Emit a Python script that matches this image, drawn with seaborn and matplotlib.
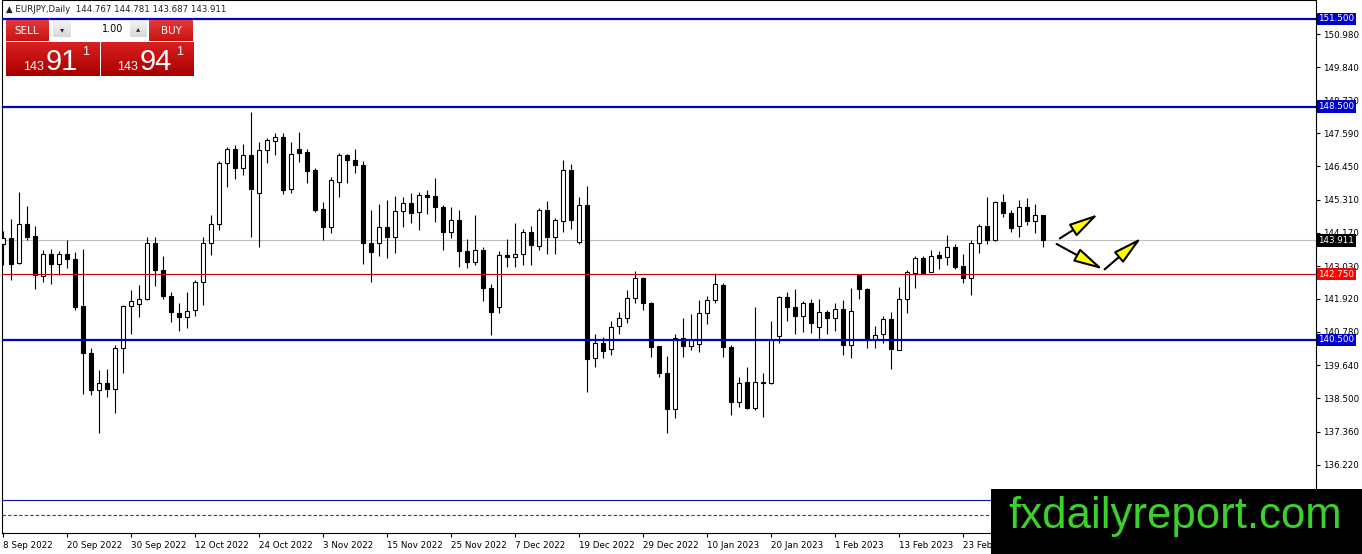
import numpy as np
import pandas as pd
import seaborn as sns
import matplotlib.pyplot as plt
from matplotlib.patches import Rectangle
from matplotlib.colors import LinearSegmentedColormap
from matplotlib.ticker import FormatStrFormatter

# EURJPY daily candles (8 Sep 2022 -> 9 Mar 2023)
opens = [143.78, 143.99, 143.15, 144.49, 144.06, 142.69, 143.43, 143.12, 143.46, 143.26,
         141.66, 140.07, 138.78, 139.01, 138.83, 140.24, 141.68, 141.75, 141.92, 143.84,
         142.91, 142.02, 141.44, 141.29, 141.54, 142.47, 143.84, 144.46, 146.55, 147.03,
         146.38, 146.83, 145.52, 147.01, 147.33, 147.44, 145.66, 147.06, 146.95, 146.32,
         144.98, 144.38, 145.92, 146.84, 146.67, 146.49, 143.81, 143.84, 144.36, 144.04,
         144.92, 145.18, 144.87, 145.47, 145.43, 145.04, 144.21, 144.61, 143.56, 143.18,
         143.58, 142.29, 141.62, 143.41, 143.33, 143.43, 144.19, 143.73, 144.95, 144.04,
         144.59, 146.32, 143.87, 145.12, 139.87, 140.38, 140.18, 140.98, 141.24, 141.93,
         142.61, 141.76, 140.29, 139.38, 138.12, 140.56, 140.30, 140.35, 141.41, 141.87,
         142.38, 140.27, 138.39, 139.05, 138.16, 139.05, 139.01, 140.64, 141.96, 141.62,
         141.33, 141.76, 140.96, 141.45, 141.24, 141.55, 140.33, 142.73, 142.23, 140.52,
         140.70, 141.21, 140.16, 141.89, 142.80, 143.30, 142.84, 143.40, 143.33, 143.67,
         143.03, 142.61, 143.84, 144.40, 143.92, 145.22, 144.84, 144.42, 145.04, 144.59,
         144.767]
highs = [144.23, 144.64, 145.58, 145.09, 144.40, 143.60, 143.61, 143.54, 143.94, 143.50,
         143.61, 140.21, 139.46, 139.49, 140.32, 141.70, 142.21, 142.38, 144.03, 144.03,
         143.37, 142.13, 141.77, 142.13, 142.55, 144.03, 144.78, 146.63, 147.12, 147.18,
         147.21, 148.30, 147.29, 147.43, 147.61, 147.61, 147.29, 147.63, 147.03, 146.38,
         145.23, 146.07, 146.92, 146.87, 147.03, 146.64, 144.95, 145.16, 145.29, 145.43,
         145.41, 145.52, 145.58, 145.64, 146.06, 145.12, 145.07, 144.95, 143.96, 144.78,
         143.70, 142.42, 143.55, 143.95, 144.52, 144.30, 144.40, 145.01, 145.26, 144.67,
         146.67, 146.53, 145.41, 145.78, 140.69, 140.59, 141.15, 141.47, 142.21, 142.87,
         142.67, 141.81, 140.29, 139.95, 140.70, 141.27, 141.39, 141.87, 142.01, 142.78,
         142.44, 140.33, 139.24, 139.59, 141.64, 139.38, 141.15, 142.01, 142.13, 142.23,
         141.85, 141.89, 141.89, 141.53, 141.78, 141.87, 142.27, 142.76, 142.27, 140.99,
         141.32, 141.47, 142.30, 142.90, 143.38, 143.38, 143.60, 143.56, 144.10, 143.79,
         143.44, 143.92, 144.47, 145.41, 145.27, 145.50, 144.95, 145.30, 145.35, 145.16,
         144.781]
lows = [143.06, 142.55, 143.10, 143.92, 142.23, 142.49, 142.43, 142.73, 142.95, 141.54,
        138.66, 138.61, 137.31, 138.55, 138.00, 139.37, 140.72, 141.29, 141.86, 142.35,
        141.89, 141.12, 140.81, 140.91, 141.31, 141.69, 143.41, 144.26, 145.75, 146.00,
        146.15, 144.03, 143.69, 146.55, 146.83, 145.49, 145.52, 146.61, 145.89, 144.90,
        143.92, 144.15, 145.41, 145.89, 146.23, 143.12, 142.50, 143.39, 143.30, 143.49,
        144.36, 144.50, 144.27, 144.82, 144.55, 143.58, 144.00, 142.99, 142.95, 143.07,
        141.84, 140.67, 141.43, 143.01, 143.01, 143.07, 143.07, 143.60, 143.43, 143.43,
        144.21, 144.32, 143.79, 138.73, 139.58, 139.87, 139.98, 140.70, 141.07, 141.76,
        141.53, 139.93, 139.24, 137.32, 137.81, 139.90, 140.16, 140.10, 141.04, 141.76,
        139.93, 137.93, 138.19, 138.12, 138.10, 137.87, 138.98, 140.39, 141.16, 140.70,
        140.78, 140.75, 140.50, 140.70, 140.82, 139.98, 139.87, 141.89, 140.21, 140.21,
        140.39, 139.49, 140.14, 141.43, 142.27, 142.76, 142.82, 142.92, 143.07, 142.92,
        142.46, 142.04, 143.49, 143.79, 143.90, 144.70, 144.21, 144.04, 144.44, 144.15,
        143.687]
closes = [143.98, 143.09, 144.49, 144.03, 142.72, 143.46, 143.09, 143.46, 143.26, 141.63,
          140.06, 138.78, 139.01, 138.83, 140.24, 141.67, 141.82, 141.92, 143.84, 142.91,
          142.01, 141.46, 141.29, 141.50, 142.47, 143.84, 144.49, 146.57, 147.03, 146.38,
          146.83, 145.66, 147.01, 147.35, 147.44, 145.63, 146.89, 146.91, 146.30, 144.95,
          144.38, 145.98, 146.84, 146.67, 146.49, 143.81, 143.52, 144.36, 144.04, 144.92,
          145.18, 144.84, 145.47, 145.41, 145.04, 144.21, 144.61, 143.56, 143.18, 143.58,
          142.29, 141.47, 143.41, 143.33, 143.43, 144.19, 143.77, 144.95, 144.04, 144.61,
          146.32, 144.61, 145.12, 139.84, 140.38, 140.13, 140.93, 141.24, 141.93, 142.61,
          141.76, 140.25, 139.36, 138.12, 140.56, 140.30, 140.50, 141.41, 141.87, 142.42,
          140.25, 138.39, 139.04, 138.16, 139.05, 139.01, 140.50, 141.96, 141.62, 141.33,
          141.76, 141.07, 141.45, 141.24, 141.55, 140.33, 141.50, 142.23, 140.50, 140.67,
          141.21, 140.18, 141.89, 142.84, 143.30, 142.80, 143.38, 143.32, 143.67, 142.99,
          142.61, 143.81, 144.40, 143.92, 145.22, 144.84, 144.35, 145.04, 144.59, 144.767,
          143.911]

dates = pd.bdate_range("2022-09-08", periods=len(opens))

header = "\u25b2 EURJPY,Daily  144.767 144.781 143.687 143.911"

# drawn levels
thick_levels = [151.5, 148.5, 140.5]
thin_blue_level = 135.0
red_level = 142.75
red_dashed_level = 134.5
bid = 143.911

price_ticks = [150.98, 149.84, 148.72, 147.59, 146.45, 145.31, 144.17,
               143.03, 141.92, 140.78, 139.64, 138.50, 137.36, 136.22]

# scenario arrows: (bar, price) start -> end
arrows = [((132.1, 143.98), (136.9, 144.81)),
          ((131.7, 143.79), (137.5, 142.92)),
          ((137.7, 142.92), (142.3, 144.00))]

BLUE = "#0000cd"
RED = "#e00000"

sns.set_theme(style="white")
plt.rcParams["font.family"] = ["DejaVu Sans"]

W, H = 1362, 554
fig = plt.figure(figsize=(W / 100, H / 100), dpi=100)
fig.patch.set_facecolor("white")
ax = fig.add_axes([2 / W, (H - 533) / H, (1316 - 2) / W, 533 / H])
ax.set_facecolor("white")

df = pd.DataFrame({"date": dates, "open": opens, "high": highs,
                   "low": lows, "close": closes})
df["x"] = np.arange(len(df))
bull = df["close"] >= df["open"]
body_lo = df[["open", "close"]].min(axis=1)
body_h = (df["close"] - df["open"]).abs().clip(lower=0.025)

ax.vlines(df["x"], df["low"], df["high"], color="black", lw=0.8, zorder=2)
ax.bar(df["x"], body_h, bottom=body_lo, width=0.52,
       color=np.where(bull, "white", "black"), edgecolor="black",
       linewidth=0.8, zorder=3)

# horizontal levels
for lvl in thick_levels:
    ax.axhline(lvl, color=BLUE, lw=1.6, zorder=4)
ax.axhline(thin_blue_level, color="#1010a0", lw=0.8, zorder=4)
ax.axhline(red_level, color="#c80000", lw=0.8, zorder=4)
ax.axhline(red_dashed_level, color="#d00000", lw=0.8, ls=(0, (3, 2)), zorder=4)
ax.axhline(bid, color="#c0c0c0", lw=0.8, zorder=1)

for start, end in arrows:
    ax.annotate("", xy=end, xytext=start,
                arrowprops=dict(arrowstyle="-|>,head_length=0.9,head_width=0.22",
                                fc="yellow", ec="black", lw=1.5,
                                mutation_scale=20, shrinkA=0, shrinkB=0),
                zorder=6)

ax.set_xlim(-0.125, 164.125)
ax.set_ylim(133.885, 152.151)

# axes look
for side in ["left", "right", "bottom", "top"]:
    ax.spines[side].set_color("black")
    ax.spines[side].set_linewidth(0.8)
ax.yaxis.tick_right()
ax.set_yticks(price_ticks)
ax.yaxis.set_major_formatter(FormatStrFormatter("%.3f"))
tick_pos = list(range(0, len(df), 8))
ax.set_xticks(tick_pos)
ax.set_xticklabels([f"{d.day} {d:%b %Y}" for d in dates[tick_pos]], ha="left")
ax.tick_params(axis="both", which="major", labelsize=6.3, colors="black",
               length=3, width=0.8, direction="out")
ax.tick_params(axis="y", left=False, right=True, labelleft=False,
               labelright=True, pad=2)
ax.tick_params(axis="x", bottom=True, pad=3)
ax.grid(False)

# price tags on the scale
tags = [(151.5, BLUE), (148.5, BLUE), (140.5, BLUE), (bid, "black"), (red_level, "#ff0000")]
for lvl, bg in tags:
    ax.text(1.0018, lvl, f"{lvl:.3f}", transform=ax.get_yaxis_transform(),
            ha="left", va="center", fontsize=6.3, color="white", zorder=10,
            clip_on=False,
            bbox=dict(boxstyle="square,pad=0.18", fc=bg, ec="none"))

# header line
fig.text(6 / W, 1 - 10 / H, header, fontsize=6.2, color="#202020",
         ha="left", va="center")


# one-click trading panel (pixel coordinates)
def box(x, y, w, h, top, bottom):
    bax = fig.add_axes([x / W, 1 - (y + h) / H, w / W, h / H], zorder=5)
    grad = np.linspace(0, 1, 32)[:, None]
    bax.imshow(grad, aspect="auto", extent=(0, 1, 0, 1),
               cmap=LinearSegmentedColormap.from_list("g", [top, bottom]))
    bax.set_axis_off()


def ptext(x, y, s, **kw):
    fig.text(x / W, 1 - y / H, s, zorder=7, **kw)


box(6, 20, 43, 21, "#e33a3a", "#c81414")
box(149, 20, 44, 21, "#e33a3a", "#c81414")
box(53, 21, 18, 16, "#f2f2f2", "#d8d8d8")
box(71, 21, 59, 16, "#ffffff", "#ffffff")
box(130, 21, 17, 16, "#f2f2f2", "#d8d8d8")
box(6, 42, 93, 34, "#d92020", "#a80000")
box(101, 42, 92, 34, "#d92020", "#a80000")

ptext(27, 31, "SELL", fontsize=7.5, color="white", ha="center", va="center")
ptext(171, 31, "BUY", fontsize=7.5, color="white", ha="center", va="center")
ptext(123, 29, "1.00", fontsize=7, color="black", ha="right", va="center")
ptext(62, 30, "\u25be", fontsize=6, color="#303030", ha="center", va="center")
ptext(138, 29, "\u25b4", fontsize=6, color="#303030", ha="center", va="center")
ptext(33, 70, "143", fontsize=9, color="white", ha="center", va="baseline",
      family="Liberation Sans")
ptext(62, 70, "91", fontsize=21, color="white", ha="center", va="baseline",
      family="Liberation Sans")
ptext(86, 52, "1", fontsize=9, color="white", ha="center", va="center",
      family="Liberation Sans")
ptext(127, 70, "143", fontsize=9, color="white", ha="center", va="baseline",
      family="Liberation Sans")
ptext(156, 70, "94", fontsize=21, color="white", ha="center", va="baseline",
      family="Liberation Sans")
ptext(180, 52, "1", fontsize=9, color="white", ha="center", va="center",
      family="Liberation Sans")

# watermark
fig.patches.append(Rectangle((991 / W, 0), (W - 991) / W, 65 / H,
                             transform=fig.transFigure, fc="black",
                             ec="none", zorder=8))
fig.text(1175 / W, 26 / H, "fxdailyreport.com", fontsize=31.5,
         color="#3ad12a", family="Liberation Sans", ha="center",
         va="baseline", zorder=9)

fig.savefig("out.png", dpi=100, facecolor="white")
